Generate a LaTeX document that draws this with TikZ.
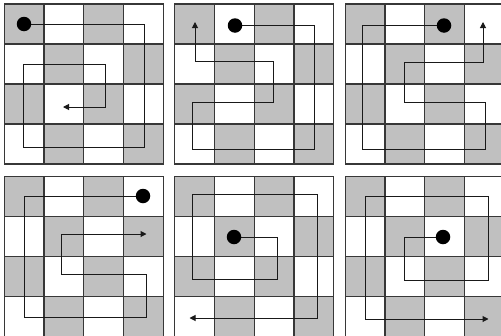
\documentclass[tikz,border=0pt]{standalone}
\usetikzlibrary{arrows.meta}
\definecolor{cellgray}{RGB}{192,192,192}
\definecolor{gridline}{RGB}{55,55,55}
\tikzset{
  gridstyle/.style={draw=gridline,line width=1.2pt,line cap=rect},
  route/.style={draw=black!90,line width=1pt,line join=miter,-{Triangle[length=6pt,width=6pt]}},
  startdot/.style={circle,fill=black,draw=none,inner sep=0pt,minimum size=14.5pt},
}
\newcommand\drawpanel[2]{%
  \begin{scope}[shift={(#1,#2)}]
    \foreach \r in {0,...,3}{
      \foreach \c in {0,...,3}{
        \pgfmathtruncatemacro\cellpar{mod(\r+\c,2)}
        \ifnum\cellpar=0
          \fill[cellgray] (\c*39.75,\r*40) rectangle ++(39.75,40);
        \fi
      }
    }
    \foreach \i in {0,...,4}{
      \draw[gridstyle] (\i*39.75,0) -- (\i*39.75,160);
      \draw[gridstyle] (0,\i*40) -- (159,\i*40);
    }
  \end{scope}
}
\begin{document}
\begin{tikzpicture}[x=1pt,y=-1pt]
  \useasboundingbox (0,0) rectangle (501,335);
  \clip (0,0) rectangle (501,335);
  \fill[white] (0,0) rectangle (501,335);
  % panels
  \drawpanel{4.3}{4}
  \drawpanel{174.8}{4}
  \drawpanel{345.3}{4}
  \drawpanel{4.3}{176.7}
  \drawpanel{174.8}{176.7}
  \drawpanel{345.3}{176.7}
  % panel 1
  \coordinate (s1) at (24,24);
  \coordinate (e1) at (63,107);
  \draw[route] (s1) -- (144,24) -- (144,147) -- (23,147) -- (23,64) -- (105,64) -- (105,107) -- (e1);
  \node[startdot] (d1) at (s1) {};
  % panel 2
  \coordinate (s2) at (235,25.5);
  \coordinate (e2) at (195,22);
  \draw[route] (s2) -- (314,25.5) -- (314,149) -- (192,149) -- (192,102) -- (273,102) -- (273,61) -- (195,61) -- (e2);
  \node[startdot] (d2) at (s2) {};
  % panel 3
  \coordinate (s3) at (444,25.5);
  \coordinate (e3) at (483,22);
  \draw[route] (s3) -- (362,25.5) -- (362,149) -- (485,149) -- (485,102) -- (404,102) -- (404,62) -- (483,62) -- (e3);
  \node[startdot] (d3) at (s3) {};
  % panel 4
  \coordinate (s4) at (143,196);
  \coordinate (e4) at (146.5,234);
  \draw[route] (s4) -- (24,196) -- (24,317) -- (146,317) -- (146,274) -- (61,274) -- (61,234) -- (e4);
  \node[startdot] (d4) at (s4) {};
  % panel 5
  \coordinate (s5) at (234,237);
  \coordinate (e5) at (189.5,318);
  \draw[route] (s5) -- (277,237) -- (277,279) -- (192,279) -- (192,194) -- (317,194) -- (317,318) -- (e5);
  \node[startdot] (d5) at (s5) {};
  % panel 6
  \coordinate (s6) at (443,237);
  \coordinate (e6) at (488.5,319);
  \draw[route] (s6) -- (404,237) -- (404,280) -- (488,280) -- (488,196) -- (365,196) -- (365,319) -- (e6);
  \node[startdot] (d6) at (s6) {};
\end{tikzpicture}
\end{document}
